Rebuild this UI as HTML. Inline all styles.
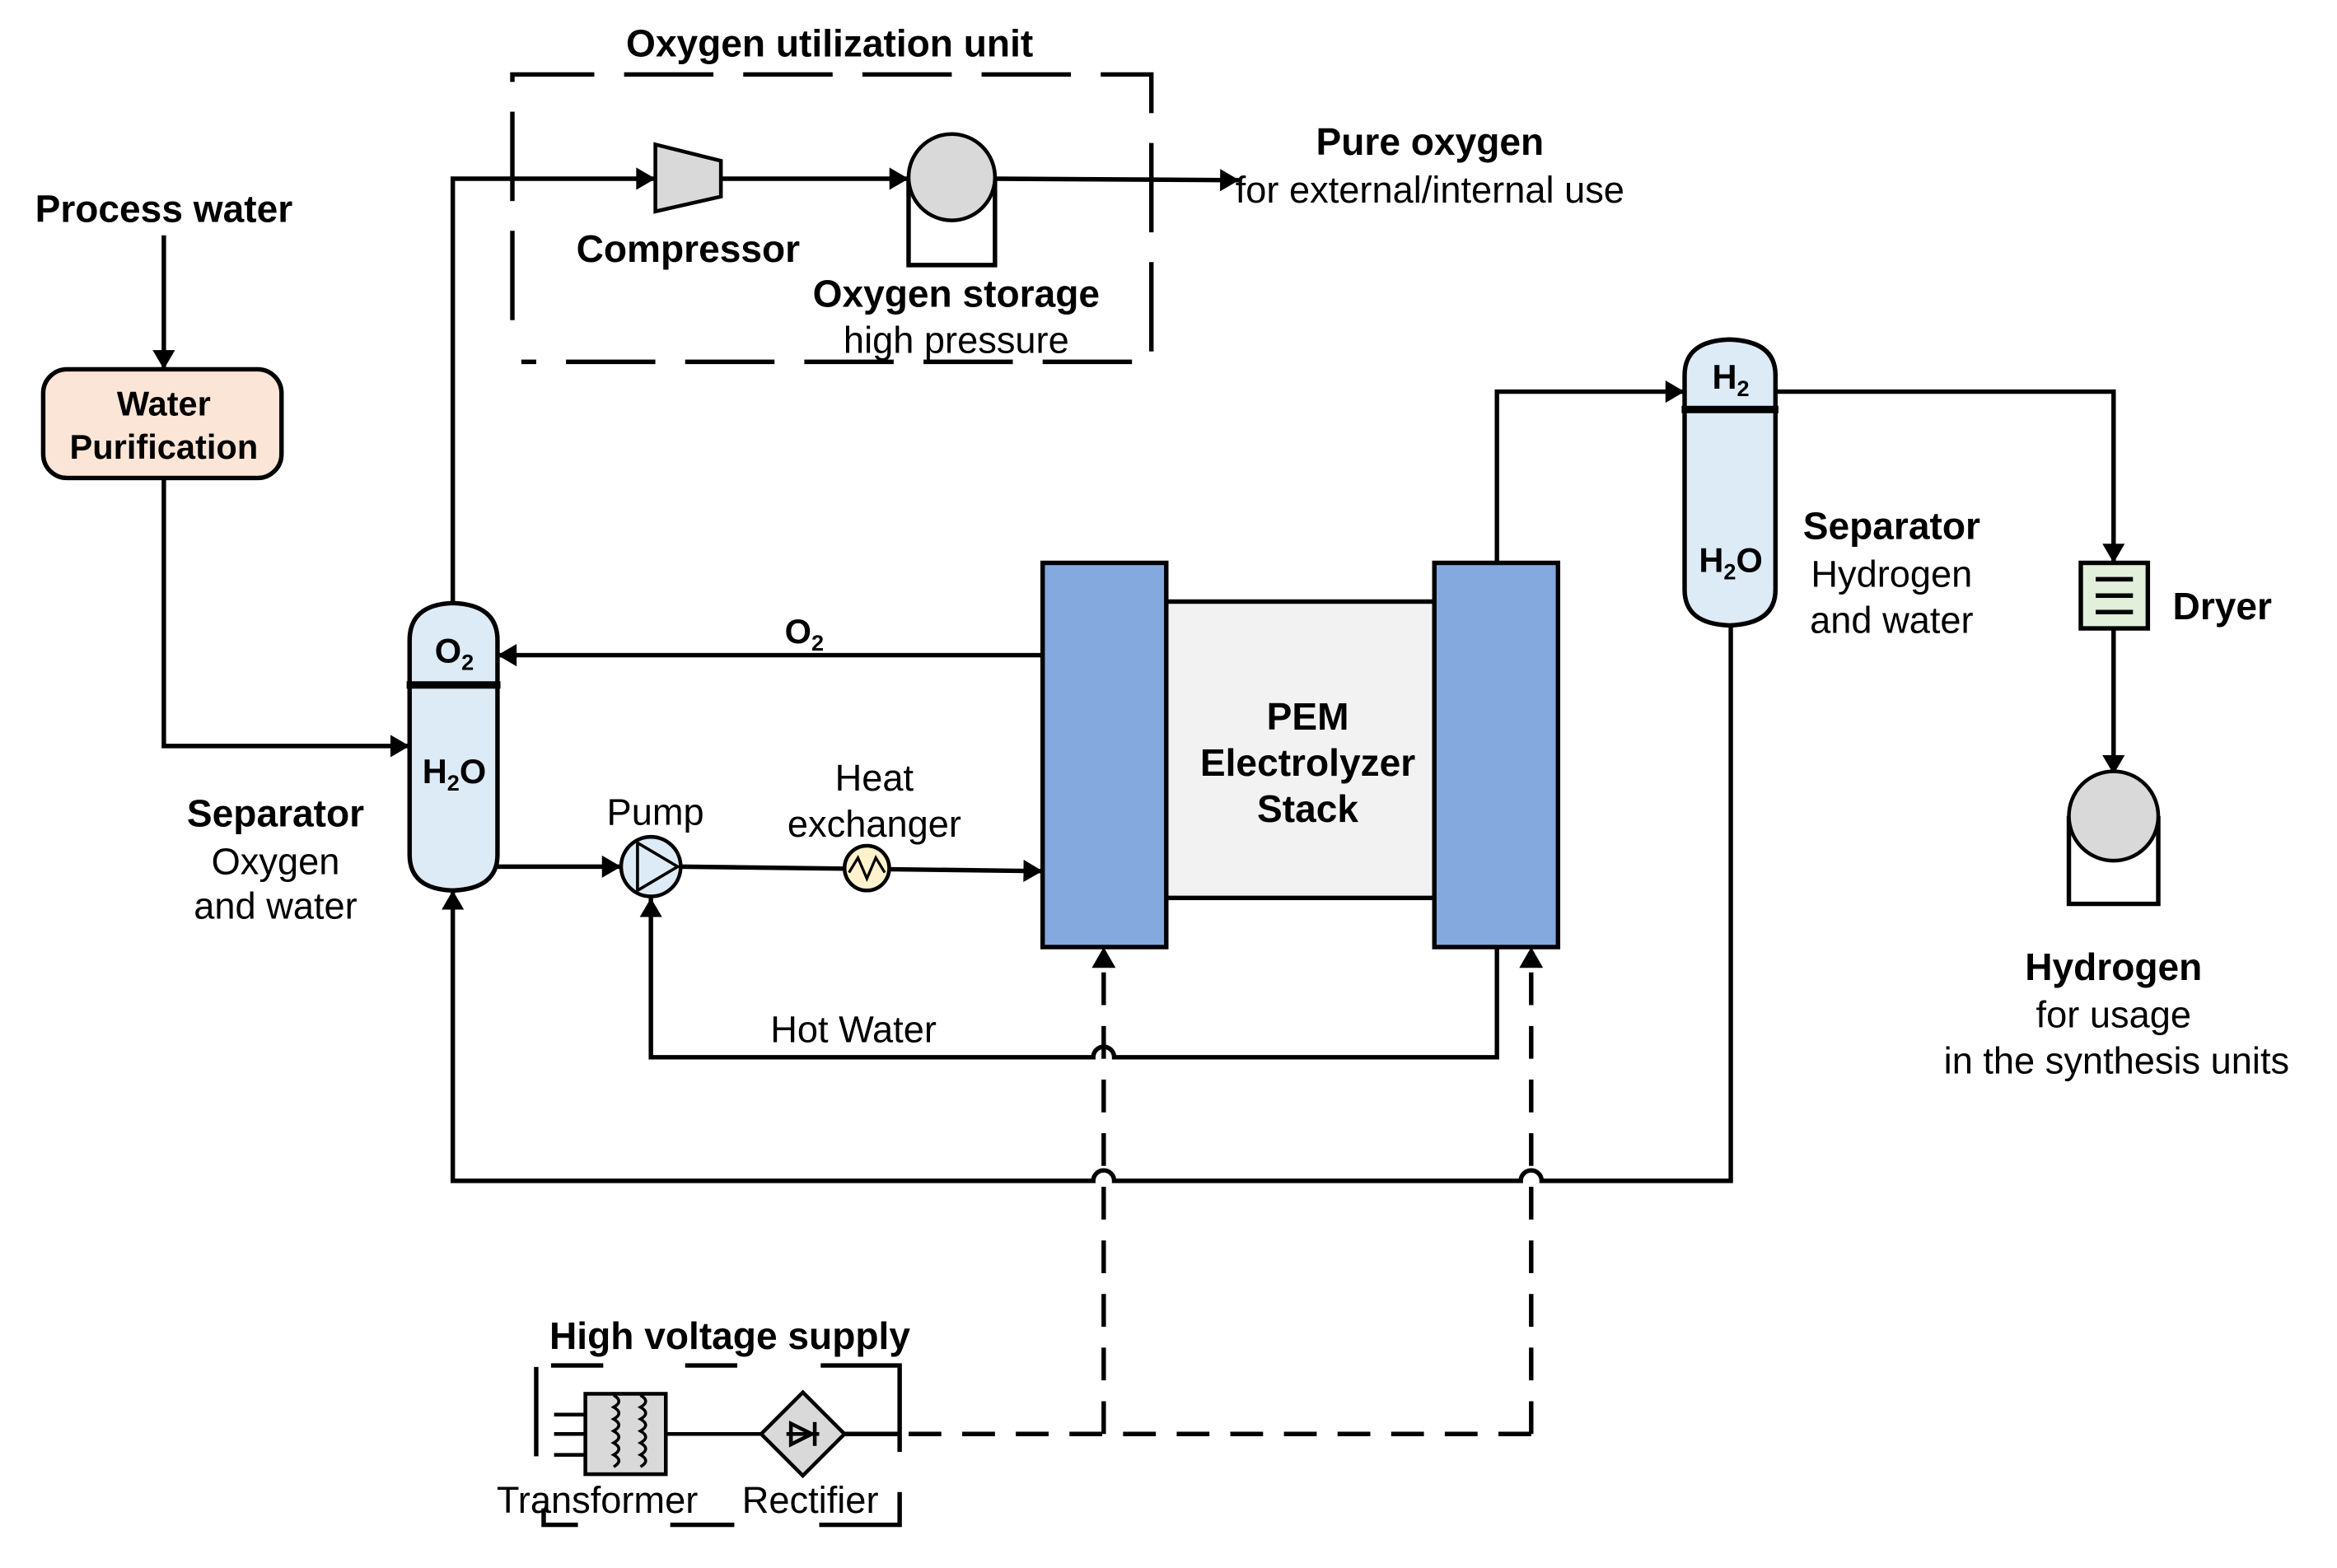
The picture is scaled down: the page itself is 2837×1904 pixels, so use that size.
<!DOCTYPE html>
<html><head><meta charset="utf-8"><style>
html,body{margin:0;padding:0;background:#fff;width:2837px;height:1904px;overflow:hidden}
svg{display:block}
text{font-family:"Liberation Sans",Arial,sans-serif;fill:#000;text-anchor:middle}
.b{font-weight:bold}
</style></head><body>
<svg width="2837" height="1904" viewBox="0 0 1569 1053" preserveAspectRatio="none" xmlns="http://www.w3.org/2000/svg">
<defs>
<marker id="m" viewBox="0 0 12 14" refX="12" refY="7" markerWidth="13" markerHeight="15" orient="auto" markerUnits="userSpaceOnUse"><path d="M0,0 L12,7 L0,14z" fill="#000"/></marker>
</defs>
<style>
.l{stroke:#000;stroke-width:3;fill:none}
.d{stroke:#000;stroke-width:3;fill:none}
</style>

<!-- Oxygen utilization unit box -->
<text x="557" y="38" class="b" font-size="25.5">Oxygen utilization unit</text>
<path class="d" d="M344,215 L344,50 L773,50 L773,243 L350,243" stroke-dasharray="60 20"/>

<path class="l" d="M304,405 L304,120 L440,120" marker-end="url(#m)"/>
<path d="M440,97 L484,108 L484,132 L440,142 Z" fill="#d9d9d9" stroke="#000" stroke-width="2.5"/>
<path class="l" d="M484,120 L610,120" marker-end="url(#m)"/>
<path class="l" d="M610,119 L610,178 L668,178 L668,119"/>
<circle cx="639" cy="119" r="29" fill="#d9d9d9" stroke="#000" stroke-width="2.5"/>
<path class="l" d="M668,120 L832,121" marker-end="url(#m)"/>
<text x="960" y="104" class="b" font-size="25.5">Pure oxygen</text>
<text x="960" y="136" font-size="25">for external/internal use</text>
<text x="462" y="176" class="b" font-size="25.5">Compressor</text>
<text x="642" y="206" class="b" font-size="25.5">Oxygen storage</text>
<text x="642" y="237" font-size="25">high pressure</text>

<text x="110" y="149" class="b" font-size="25.5">Process water</text>
<path class="l" d="M110,158 L110,248" marker-end="url(#m)"/>
<rect x="29" y="248" width="160" height="73" rx="16" fill="#fbe5d6" stroke="#000" stroke-width="3"/>
<text x="110" y="279" class="b" font-size="23">Water</text>
<text x="110" y="308" class="b" font-size="23">Purification</text>
<path class="l" d="M110,321 L110,501 L275,501" marker-end="url(#m)"/>

<path d="M275,430 Q275,406 304,405 Q334,406 334,430 L334,574 Q334,597 304,598 Q275,597 275,574 Z" fill="#ddebf7" stroke="#000" stroke-width="3"/>
<line x1="273" y1="460" x2="336" y2="460" stroke="#000" stroke-width="5"/>
<text x="305" y="445" class="b" font-size="23">O<tspan font-size="15" dy="5">2</tspan></text>
<text x="305" y="526" class="b" font-size="23">H<tspan font-size="15" dy="5">2</tspan><tspan dy="-5">O</tspan></text>
<text x="185" y="555" class="b" font-size="25.5">Separator</text>
<text x="185" y="587" font-size="25">Oxygen</text>
<text x="185" y="617" font-size="25">and water</text>

<path class="l" d="M700,440 L334,440" marker-end="url(#m)"/>
<text x="540" y="432" class="b" font-size="23">O<tspan font-size="15" dy="5">2</tspan></text>

<path class="l" d="M334,582 L417,582" marker-end="url(#m)"/>
<circle cx="437" cy="582" r="20" fill="#ddebf7" stroke="#000" stroke-width="2.5"/>
<path d="M428,566 L455,582 L428,598 Z" fill="none" stroke="#000" stroke-width="2"/>
<text x="440" y="554" font-size="25">Pump</text>
<path class="l" d="M457,582 L700,585" marker-end="url(#m)"/>
<circle cx="582" cy="583" r="15" fill="#fff2cc" stroke="#000" stroke-width="2.5"/>
<path d="M570,586 L576,576 L582,590 L588,576 L594,586" fill="none" stroke="#000" stroke-width="1.8"/>
<text x="587" y="531" font-size="25">Heat</text>
<text x="587" y="562" font-size="25">exchanger</text>

<rect x="783" y="404" width="180" height="199" fill="#f2f2f2" stroke="#000" stroke-width="3"/>
<rect x="700" y="378" width="83" height="258" fill="#84a9de" stroke="#000" stroke-width="3"/>
<rect x="963" y="378" width="83" height="258" fill="#84a9de" stroke="#000" stroke-width="3"/>
<text x="878" y="490" class="b" font-size="25.5">PEM</text>
<text x="878" y="521" class="b" font-size="25.5">Electrolyzer</text>
<text x="878" y="552" class="b" font-size="25.5">Stack</text>

<path class="l" d="M1005,636 L1005,710 L748,710 A7,7 0 0 0 734,710 L437,710 L437,603" marker-end="url(#m)"/>
<text x="573" y="700" font-size="25">Hot Water</text>

<path class="l" d="M1162,420 L1162,793 L1035,793 A7,7 0 0 0 1021,793 L748,793 A7,7 0 0 0 734,793 L304,793 L304,598" marker-end="url(#m)"/>

<path class="l" d="M1005,378 L1005,263 L1131,263" marker-end="url(#m)"/>
<path d="M1131,252 Q1131,229 1161,228 Q1192,229 1192,252 L1192,396 Q1192,419 1161,420 Q1131,419 1131,396 Z" fill="#ddebf7" stroke="#000" stroke-width="3"/>
<line x1="1129" y1="275" x2="1194" y2="275" stroke="#000" stroke-width="5"/>
<text x="1162" y="261" class="b" font-size="23">H<tspan font-size="15" dy="5">2</tspan></text>
<text x="1162" y="384" class="b" font-size="23">H<tspan font-size="15" dy="5">2</tspan><tspan dy="-5">O</tspan></text>
<text x="1270" y="362" class="b" font-size="25.5">Separator</text>
<text x="1270" y="394" font-size="25">Hydrogen</text>
<text x="1270" y="425" font-size="25">and water</text>

<path class="l" d="M1192,263 L1419,263 L1419,378" marker-end="url(#m)"/>
<rect x="1397" y="378" width="45" height="44" fill="#e2efda" stroke="#000" stroke-width="3"/>
<path d="M1407,389 H1432 M1407,400 H1432 M1407,411 H1432" stroke="#000" stroke-width="3"/>
<text x="1492" y="416" class="b" font-size="25.5">Dryer</text>
<path class="l" d="M1419,422 L1419,520" marker-end="url(#m)"/>
<path class="l" d="M1389,548 L1389,607 L1449,607 L1449,548"/>
<circle cx="1419" cy="548" r="30" fill="#d9d9d9" stroke="#000" stroke-width="2.5"/>
<text x="1419" y="658" class="b" font-size="25.5">Hydrogen</text>
<text x="1419" y="690" font-size="25">for usage</text>
<text x="1421" y="721" font-size="25">in the synthesis units</text>

<path d="M741,963 L741,648" class="l" stroke-dasharray="22 14"/>
<path d="M733,650 L741,636 L749,650 Z" fill="#000"/>
<path d="M1028,963 L1028,648" class="l" stroke-dasharray="22 14"/>
<path d="M1020,650 L1028,636 L1036,650 Z" fill="#000"/>
<path d="M610,963 L1028,963" class="l" stroke-dasharray="22 14"/>

<text x="490" y="906" class="b" font-size="25.5">High voltage supply</text>
<path d="M360,918 L360,978" class="l"/>
<path d="M370,917 H405 M460,917 H495 M551,917 H596 M596,917 H604 L604,975" class="l"/>
<path d="M604,1002 L604,1024 L550,1024 M493,1024 L450,1024 M388,1024 L365,1024 L365,1013" class="l"/>
<path d="M372,950 H393 M372,963 H393 M372,977 H393" stroke="#000" stroke-width="2.5"/>
<rect x="393" y="936" width="54" height="54" fill="#d9d9d9" stroke="#000" stroke-width="2.5"/>
<path d="M412,937 q7,4 0,8 q7,4 0,8 q7,4 0,8 q7,4 0,8 q7,4 0,8 q7,4 0,8 M430,937 q7,4 0,8 q7,4 0,8 q7,4 0,8 q7,4 0,8 q7,4 0,8 q7,4 0,8" fill="none" stroke="#000" stroke-width="2"/>
<path d="M447,963 L512,963" stroke="#000" stroke-width="2.5"/>
<path d="M539,935 L567,963 L539,991 L511,963 Z" fill="#d9d9d9" stroke="#000" stroke-width="2.5"/>
<path d="M528,963 H550 M531,956 L545,963 L531,970 Z M547,955 V971" fill="none" stroke="#000" stroke-width="2.5"/>
<path d="M567,963 L604,963" stroke="#000" stroke-width="3"/>
<text x="401" y="1016" font-size="25">Transformer</text>
<text x="544" y="1016" font-size="25">Rectifier</text>
</svg>
</body></html>
